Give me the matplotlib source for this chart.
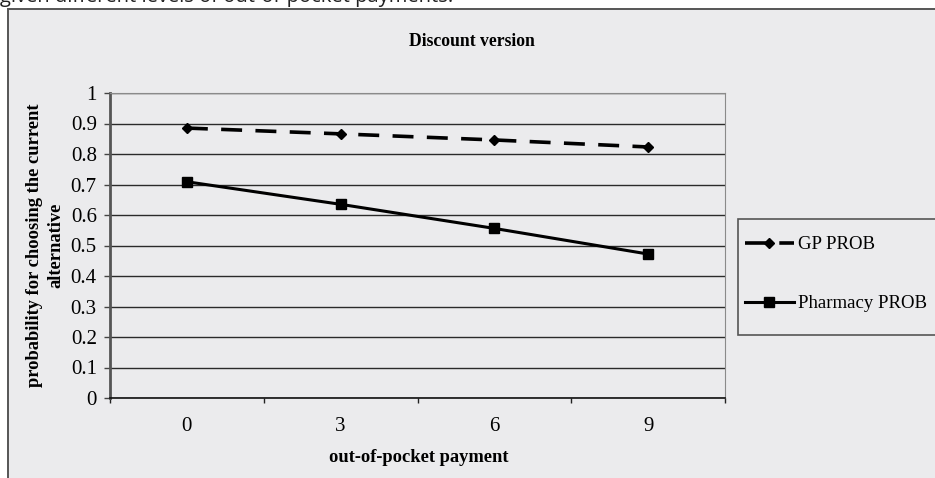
import matplotlib
matplotlib.use("Agg")
from matplotlib import pyplot as plt
from matplotlib.patches import Rectangle
from matplotlib.lines import Line2D

# payment levels and choice probabilities
payments = ["0", "3", "6", "9"]
gp_prob = [0.885, 0.866, 0.846, 0.823]
pharmacy_prob = [0.709, 0.635, 0.556, 0.472]
y_ticks = [0, 0.1, 0.2, 0.3, 0.4, 0.5, 0.6, 0.7, 0.8, 0.9, 1]

W, H = 935, 478
bg = "#ebebed"
serif = "Liberation Serif"

fig = plt.figure(figsize=(W / 100, H / 100), dpi=100, facecolor="white")


def fx(px):
    return px / W


def fy(py):
    return 1 - py / H


# caption line of the surrounding page (mostly cropped)
fig.text(fx(0), fy(2), "given different levels of out-of-pocket payments.",
         fontsize=14.5, family="Open Sans", color="#222222", va="baseline", ha="left")

# outer chart frame
fig.patches.append(Rectangle((fx(8), fy(H + 20)), fx(W + 20), fy(9) - fy(H + 20),
                             transform=fig.transFigure, facecolor=bg,
                             edgecolor="#555555", lw=1.4, zorder=-2))

ax = fig.add_axes([fx(110), fy(398), fx(725) - fx(110), fy(93) - fy(398)])
ax.set_zorder(2)
ax.set_facecolor(bg)

x = list(range(len(payments)))
ax.plot(x, gp_prob, color="black", lw=2.6, dashes=(5.8, 3.7),
        marker="D", markersize=5.5, zorder=3, clip_on=False)
ax.plot(x, pharmacy_prob, color="black", lw=2.2,
        marker="s", markersize=7, zorder=3, clip_on=False)

ax.set_xlim(-0.5, len(payments) - 0.5)
ax.set_ylim(0, 1)
ax.set_yticks(y_ticks)
ax.set_yticklabels([f"{v:g}" for v in y_ticks], family=serif, fontsize=15)
ax.grid(axis="y", color="#2a2a2a", lw=1.0)
ax.set_axisbelow(True)

ax.set_xticks(x)
ax.set_xticklabels(payments, family=serif, fontsize=15)
ax.set_xticks([i - 0.5 for i in range(len(payments) + 1)], minor=True)
ax.tick_params(axis="x", which="major", length=0, pad=14)
ax.tick_params(axis="x", which="minor", length=3.6, width=1, direction="out", color="#222222")
ax.tick_params(axis="y", length=4.5, width=1, direction="out", color="#444444", pad=5)

ax.spines["left"].set_color("#555555")
ax.spines["left"].set_linewidth(2)
ax.spines["bottom"].set_color("#111111")
ax.spines["bottom"].set_linewidth(1.2)
ax.spines["right"].set_color("#8a8a8a")
ax.spines["top"].set_color("#8a8a8a")

fig.text(fx(472), fy(41), "Discount version", family=serif, fontsize=12.7,
         fontweight="bold", ha="center", va="center")
fig.text(fx(419), fy(458), "out-of-pocket payment", family=serif, fontsize=13.3,
         fontweight="bold", ha="center", va="center")
fig.text(fx(45), fy(245), "probability for choosing the current\nalternative",
         family=serif, fontsize=13.3, fontweight="bold", rotation=90,
         ha="center", va="center", multialignment="center", linespacing=1.35)

# legend box running off the right edge
fig.patches.append(Rectangle((fx(738), fy(335)), fx(W + 20 - 738), fy(219) - fy(335),
                             transform=fig.transFigure, facecolor=bg,
                             edgecolor="#555555", lw=1.2, zorder=-1))
handles = [
    Line2D([], [], color="black", lw=2.6, dashes=(5.8, 3.7), marker="D", markersize=5.5),
    Line2D([], [], color="black", lw=2.2, marker="s", markersize=7),
]
leg = fig.legend(handles, ["GP PROB", "Pharmacy PROB"], loc="upper left",
                 bbox_to_anchor=(fx(745), fy(236)), frameon=False,
                 prop={"family": serif, "size": 13.5}, handlelength=2.6,
                 handletextpad=0.2, labelspacing=2.25, borderaxespad=0,
                 borderpad=0)

fig.savefig("out.png", dpi=100, facecolor="white")
